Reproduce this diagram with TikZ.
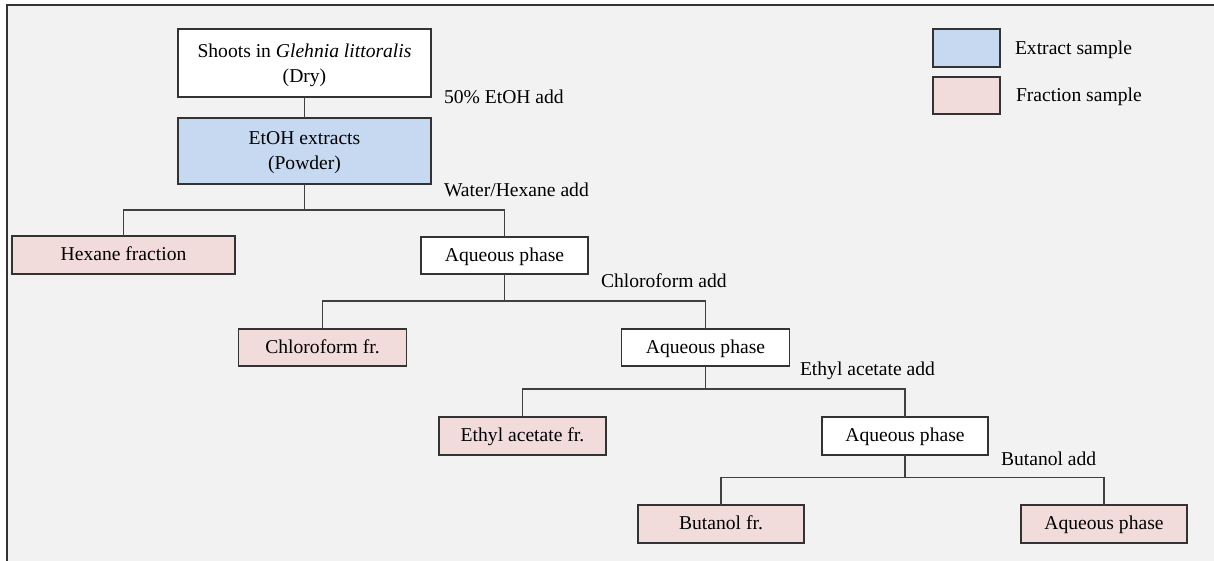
\documentclass[tikz,border=0pt]{standalone}
\usepackage{fontspec}
\setmainfont{Liberation Serif}
\definecolor{bggray}{HTML}{F2F2F2}
\definecolor{extractblue}{HTML}{C6D9F1}
\definecolor{fractionpink}{HTML}{F2DCDB}
\definecolor{edgegray}{HTML}{333333}
\definecolor{linegray}{HTML}{404040}
\begin{document}
\begin{tikzpicture}[x=0.5pt,y=-0.5pt,
  every node/.style={font=\fontsize{9.8}{12.5}\selectfont, inner sep=0pt, outer sep=0pt},
  boxbase/.style={draw=edgegray, line width=0.75pt, align=center, anchor=center},
  oneline/.style={text height=0.75em, text depth=0.2em},
  twoline/.style={text depth=0pt},
  plainbox/.style={boxbase, fill=white},
  extractbox/.style={boxbase, fill=extractblue},
  fractionbox/.style={boxbase, fill=fractionpink},
  addlabel/.style={anchor=west},
  conn/.style={draw=linegray, line width=0.7pt}]
\useasboundingbox (0,0) rectangle (1214,561);
\fill[white] (0,0) rectangle (1214,561);
\fill[bggray] (7,5) rectangle (1214,561);
\draw[edgegray, line width=1pt] (7,561) -- (7,5) -- (1214,5);

% nodes
\node[plainbox, twoline, minimum width=126.5pt, minimum height=34pt] (shoots) at (304.5,63) {Shoots in \textit{Glehnia littoralis}\\(Dry)};
\node[extractbox, twoline, minimum width=126.5pt, minimum height=33pt] (etoh) at (304.5,151) {EtOH extracts\\(Powder)};
\node[fractionbox, oneline, minimum width=111.5pt, minimum height=19pt] (hex) at (123.5,255) {Hexane fraction};
\node[plainbox, oneline, minimum width=83.5pt, minimum height=18.5pt] (aq1) at (504.5,255.5) {Aqueous phase};
\node[fractionbox, oneline, minimum width=84pt, minimum height=18.5pt] (chl) at (322.5,347.5) {Chloroform fr.};
\node[plainbox, oneline, minimum width=84pt, minimum height=18.5pt] (aq2) at (705.5,347.5) {Aqueous phase};
\node[fractionbox, oneline, minimum width=83.5pt, minimum height=19pt] (eth) at (522.5,436) {Ethyl acetate fr.};
\node[plainbox, oneline, minimum width=83pt, minimum height=19pt] (aq3) at (905,436) {Aqueous phase};
\node[fractionbox, oneline, minimum width=83pt, minimum height=19pt] (but) at (721,524) {Butanol fr.};
\node[fractionbox, oneline, minimum width=83pt, minimum height=19pt] (aq4) at (1104,524) {Aqueous phase};

% legend
\node[extractbox, minimum width=33.5pt, minimum height=19pt] (legext) at (966.5,48) {};
\node[anchor=west, oneline] (legexttxt) at (1015,49) {Extract sample};
\node[fractionbox, minimum width=33.5pt, minimum height=18.5pt] (legfrac) at (966.5,95.5) {};
\node[anchor=west, oneline] (legfractxt) at (1016,96.5) {Fraction sample};

% step labels
\node[addlabel, oneline] (l1) at (444,98.5) {50\% EtOH add};
\node[addlabel, oneline] (l2) at (444,191) {Water/Hexane add};
\node[addlabel, oneline] (l3) at (601,282) {Chloroform add};
\node[addlabel, oneline] (l4) at (800,370) {Ethyl acetate add};
\node[addlabel, oneline] (l5) at (1001,460) {Butanol add};

% junctions
\coordinate (j1) at (304.5,210);
\coordinate (j2) at (504.5,301);
\coordinate (j3) at (705.5,389);
\coordinate (j4) at (905,477.5);

% connectors
\draw[conn] (shoots) -- (etoh);
\draw[conn] (etoh) -- (j1);
\draw[conn] (hex.north) |- (j1) -| (aq1.north);
\draw[conn] (aq1) -- (j2);
\draw[conn] (chl.north) |- (j2) -| (aq2.north);
\draw[conn] (aq2) -- (j3);
\draw[conn] (eth.north) |- (j3) -| (aq3.north);
\draw[conn] (aq3) -- (j4);
\draw[conn] (but.north) |- (j4) -| (aq4.north);
\end{tikzpicture}
\end{document}
